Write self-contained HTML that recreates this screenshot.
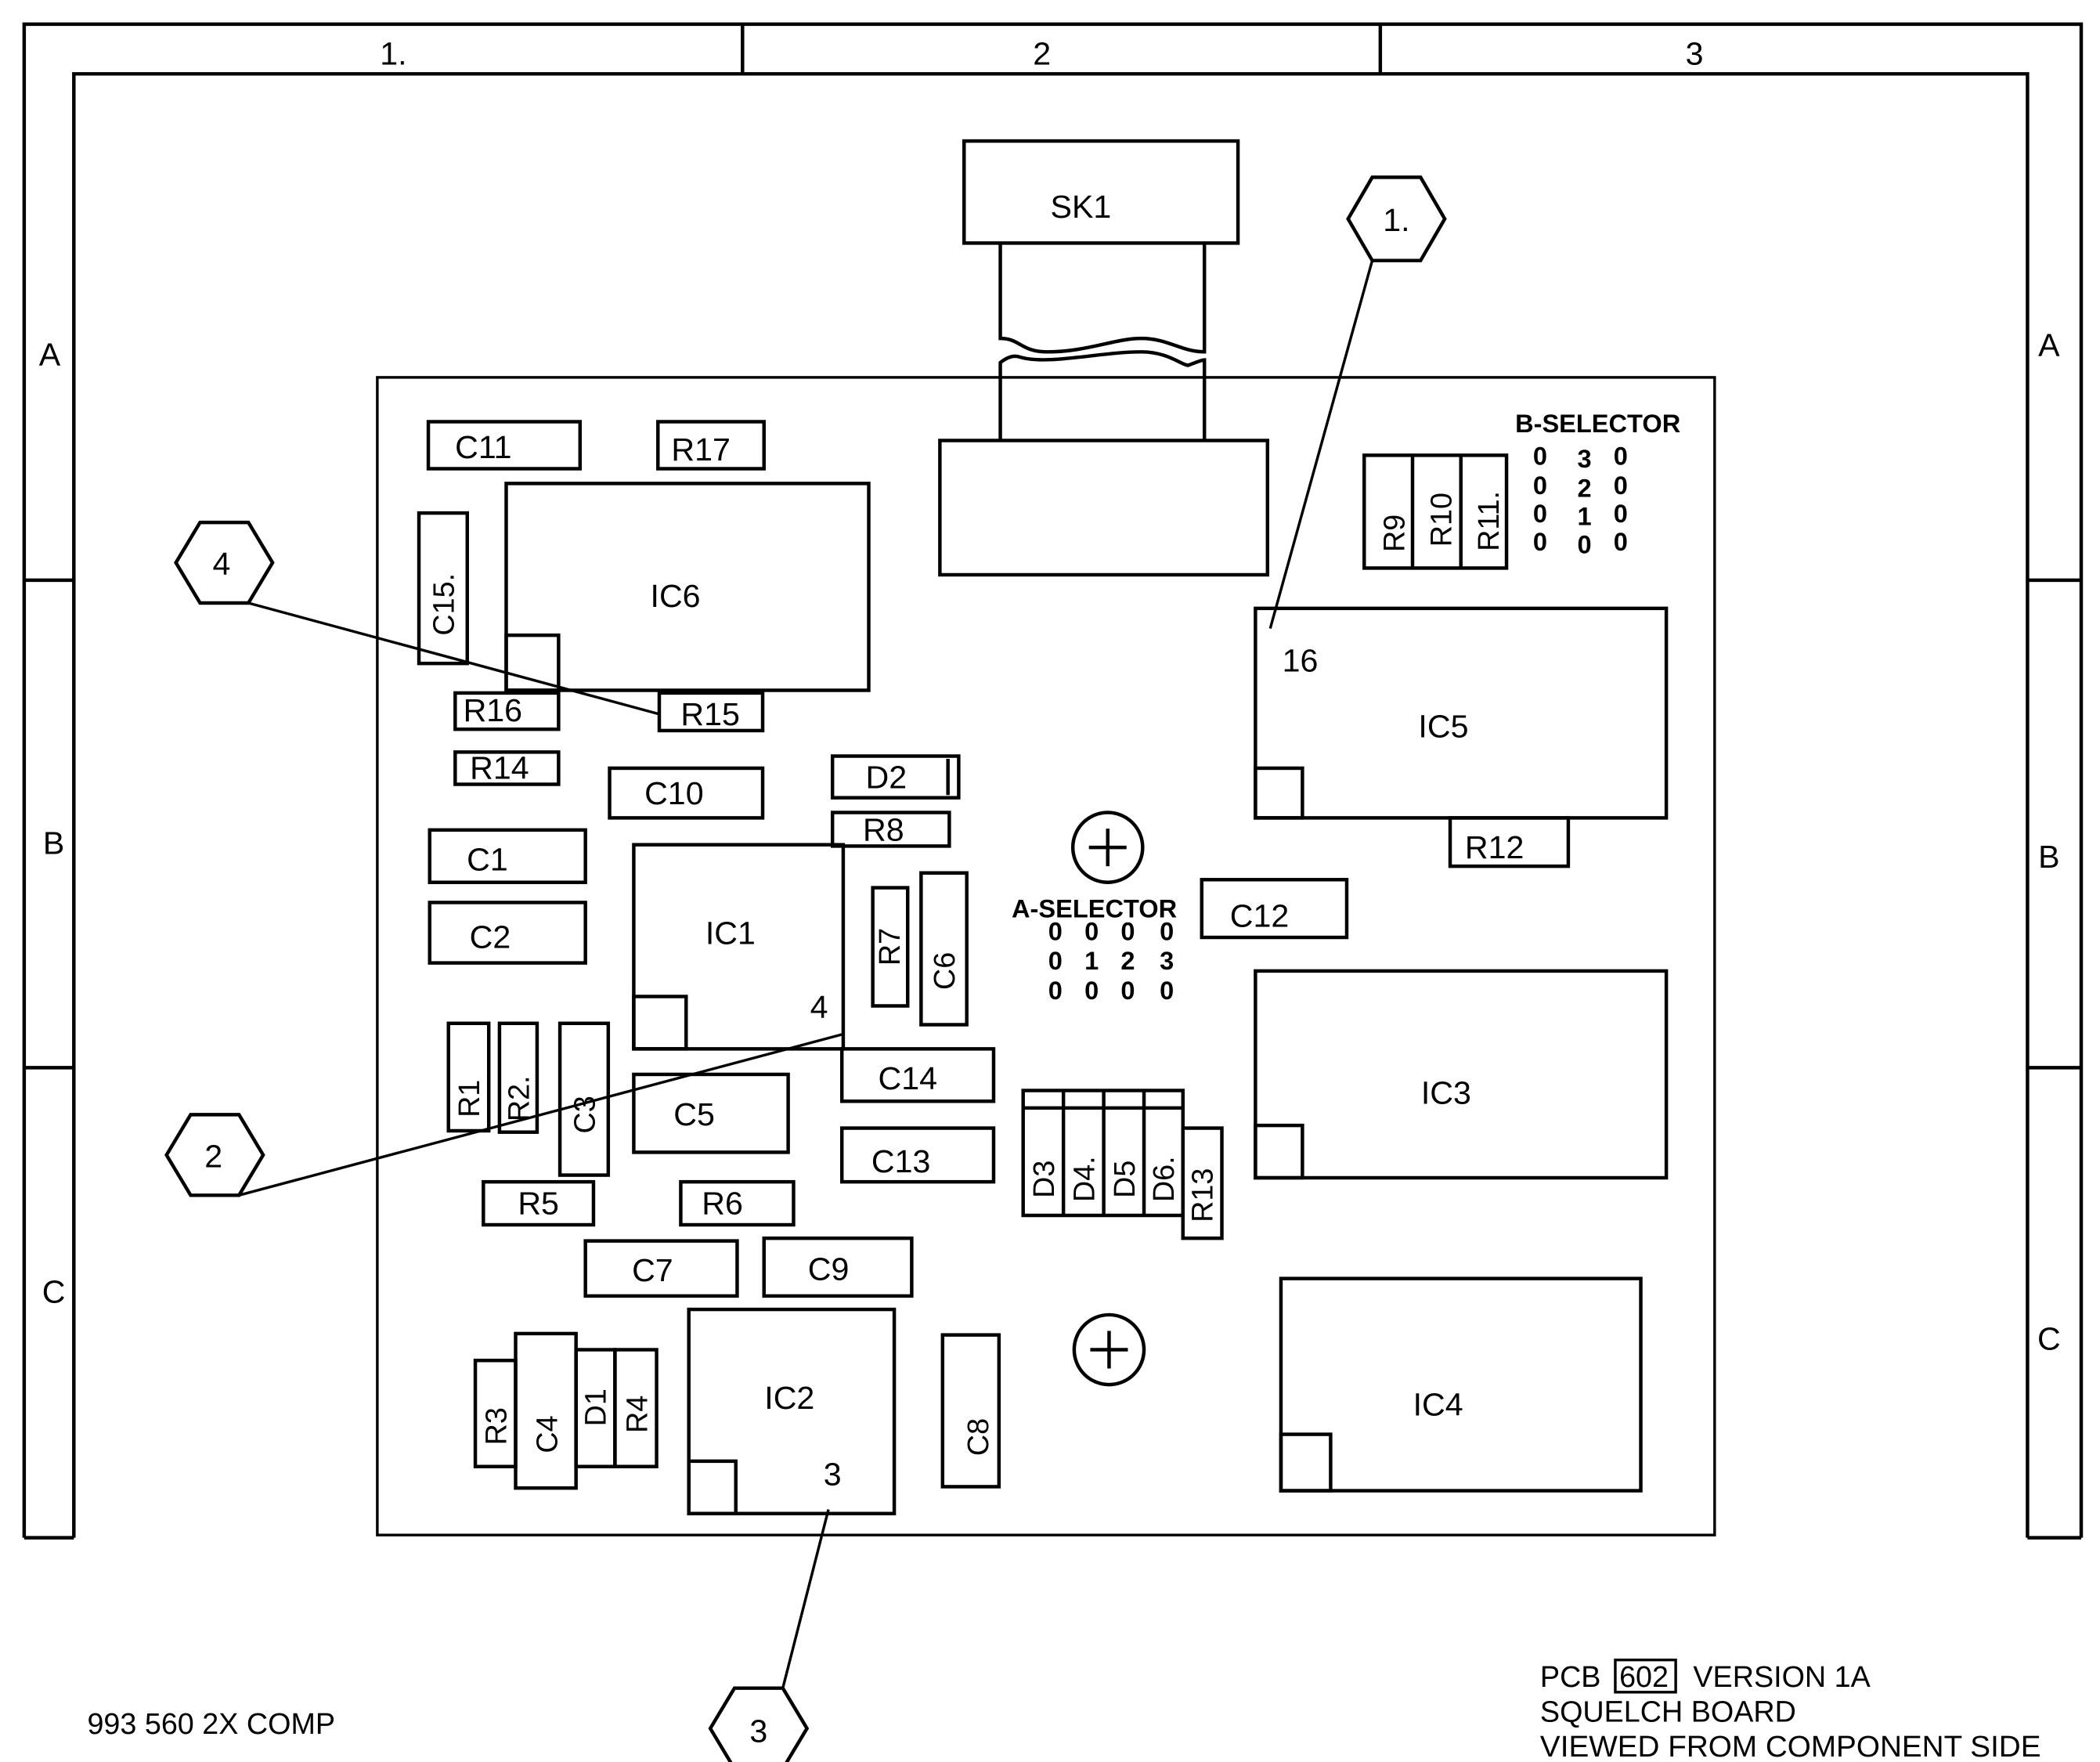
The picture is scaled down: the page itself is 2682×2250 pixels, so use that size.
<!DOCTYPE html>
<html><head><meta charset="utf-8"><style>
html,body{margin:0;padding:0;background:#fff}
svg{display:block}
text{font-family:"Liberation Sans",sans-serif;fill:#000}
</style></head><body>
<svg width="2682" height="2250" viewBox="0 0 1564 1312" preserveAspectRatio="none" xmlns="http://www.w3.org/2000/svg">
<g fill="none" stroke="#000" stroke-width="2.6">
<path d="M18 1145 V18 H1550 V1145"/>
<path d="M55 1145 V55 H1510 V1145"/>
<path d="M18 1145 H55 M1510 1145 H1550"/>
<path d="M553 18 V55 M1028 18 V55"/>
<path d="M18 432 H55 M18 795 H55 M1510 432 H1550 M1510 795 H1550"/>
<rect x="281" y="281" width="996" height="862" stroke-width="2"/>
<rect x="718" y="105" width="204" height="76"/>
<path d="M745 181 V252 C760 252 760 262 780 262 C810 262 830 252 850 252 C870 252 880 262 897 262 V181"/>
<path d="M745 328 V270 C750 266 755 264 760 266 C780 272 820 262 850 262 C870 262 880 272 885 272 C890 270 895 268 897 268 V328"/>
<rect x="700" y="328" width="244" height="100"/>
<rect x="319" y="314" width="113" height="35"/>
<rect x="490" y="314" width="79" height="35"/>
<rect x="377" y="360" width="270" height="154"/><rect x="377" y="473" width="39" height="41"/>
<rect x="312" y="382" width="36" height="112"/>
<rect x="339" y="516" width="77" height="27"/>
<rect x="491" y="516" width="77" height="28"/>
<rect x="339" y="560" width="77" height="24"/>
<rect x="454" y="572" width="114" height="37"/>
<rect x="620" y="563" width="94" height="31"/><path d="M706 565 V592"/>
<rect x="620" y="605" width="87" height="25"/>
<rect x="320" y="618" width="116" height="39"/>
<rect x="320" y="672" width="116" height="45"/>
<rect x="472" y="629" width="156" height="152"/><rect x="472" y="742" width="39" height="39"/>
<rect x="650" y="661" width="26" height="88"/>
<rect x="686" y="650" width="34" height="113"/>
<rect x="627" y="781" width="113" height="39"/>
<rect x="472" y="800" width="115" height="58"/>
<rect x="627" y="840" width="113" height="40"/>
<rect x="334" y="762" width="30" height="80"/>
<rect x="372" y="762" width="28" height="81"/>
<rect x="417" y="762" width="36" height="113"/>
<rect x="360" y="880" width="82" height="32"/>
<rect x="507" y="880" width="84" height="32"/>
<rect x="436" y="924" width="113" height="41"/>
<rect x="569" y="922" width="110" height="43"/>
<rect x="513" y="975" width="153" height="152"/><rect x="513" y="1088" width="35" height="39"/>
<rect x="354" y="1013" width="30" height="79"/>
<rect x="384" y="993" width="45" height="115"/>
<rect x="429" y="1005" width="29" height="87"/>
<rect x="458" y="1005" width="31" height="87"/>
<rect x="702" y="994" width="42" height="113"/>
<rect x="762" y="812" width="119" height="93"/>
<path d="M792 812 V905 M822 812 V905 M852 812 V905 M762 825 H881"/>
<rect x="881" y="840" width="29" height="82"/>
<rect x="935" y="453" width="306" height="156"/><rect x="935" y="572" width="35" height="37"/>
<rect x="1080" y="609" width="88" height="36"/>
<rect x="895" y="655" width="108" height="43"/>
<rect x="935" y="723" width="306" height="154"/><rect x="935" y="838" width="35" height="39"/>
<rect x="954" y="952" width="268" height="158"/><rect x="954" y="1068" width="37" height="42"/>
<rect x="1016" y="339" width="106" height="84"/><path d="M1052 339 V423 M1088 339 V423"/>
<circle cx="825" cy="631" r="26"/><path d="M825 617 V645 M811 631 H839"/>
<circle cx="826" cy="1005" r="26"/><path d="M826 991 V1019 M812 1005 H840"/>
<polygon points="1004,163 1022,132 1058,132 1076,163 1058,194 1022,194"/>
<polygon points="131,419 149,389 185,389 203,419 185,449 149,449"/>
<polygon points="124,860 142,830 178,830 196,860 178,890 142,890"/>
<polygon points="529,1287 547,1257 583,1257 601,1287 583,1317 547,1317"/>
<path d="M1022 194 L946 468 M185 449 L492 532 M178 890 L628 770 M583 1257 L617 1124" stroke-width="2"/>
<rect x="1203" y="1236" width="45" height="24" stroke-width="2"/>
</g>
<g font-size="24" text-anchor="middle">
<text x="293" y="48">1.</text><text x="776" y="48">2</text><text x="1262" y="48">3</text>
<text x="37" y="272">A</text><text x="40" y="636">B</text><text x="40" y="970">C</text>
<text x="1526" y="265">A</text><text x="1526" y="646">B</text><text x="1526" y="1005">C</text>
<text x="805" y="162">SK1</text>
<text x="360" y="341">C11</text><text x="522" y="343">R17</text>
<text x="503" y="452">IC6</text>
<text x="367" y="537">R16</text><text x="529" y="540">R15</text>
<text x="372" y="580">R14</text><text x="502" y="599">C10</text>
<text x="660" y="587">D2</text><text x="658" y="626">R8</text>
<text x="363" y="648">C1</text><text x="365" y="706">C2</text>
<text x="544" y="703">IC1</text><text x="610" y="758">4</text>
<text x="676" y="811">C14</text><text x="517" y="838">C5</text><text x="671" y="873">C13</text>
<text x="401" y="904">R5</text><text x="538" y="904">R6</text>
<text x="486" y="954">C7</text><text x="617" y="953">C9</text>
<text x="588" y="1049">IC2</text><text x="620" y="1106">3</text>
<text x="1075" y="549">IC5</text><text x="955" y="500" text-anchor="start">16</text>
<text x="1113" y="639">R12</text><text x="938" y="690">C12</text>
<text x="1077" y="822">IC3</text><text x="1071" y="1054">IC4</text>
<text x="1040" y="172">1.</text><text x="165" y="428">4</text><text x="159" y="869">2</text><text x="565" y="1297">3</text>
</g>
<g font-size="22" text-anchor="middle">
<text transform="translate(338,450) rotate(-90)">C15.</text>
<text transform="translate(670,705) rotate(-90)">R7</text>
<text transform="translate(711,723) rotate(-90)">C6</text>
<text transform="translate(357,818) rotate(-90)">R1</text>
<text transform="translate(394,818) rotate(-90)">R2.</text>
<text transform="translate(443,830) rotate(-90)">C3</text>
<text transform="translate(377,1062) rotate(-90)">R3</text>
<text transform="translate(415,1068) rotate(-90)">C4</text>
<text transform="translate(451,1048) rotate(-90)">D1</text>
<text transform="translate(482,1053) rotate(-90)">R4</text>
<text transform="translate(736,1070) rotate(-90)">C8</text>
<text transform="translate(785,878) rotate(-90)">D3</text>
<text transform="translate(815,878) rotate(-90)">D4.</text>
<text transform="translate(845,878) rotate(-90)">D5</text>
<text transform="translate(874,878) rotate(-90)">D6.</text>
<text transform="translate(903,890) rotate(-90)">R13</text>
<text transform="translate(1046,397) rotate(-90)">R9</text>
<text transform="translate(1081,387) rotate(-90)">R10</text>
<text transform="translate(1116,388) rotate(-90)">R11.</text>
</g>
<g font-size="19" font-weight="bold" text-anchor="middle">
<text x="1190" y="322">B-SELECTOR</text>
<text x="1147" y="346">0</text><text x="1180" y="348">3</text><text x="1207" y="346">0</text>
<text x="1147" y="368">0</text><text x="1180" y="370">2</text><text x="1207" y="368">0</text>
<text x="1147" y="389">0</text><text x="1180" y="391">1</text><text x="1207" y="389">0</text>
<text x="1147" y="410">0</text><text x="1180" y="412">0</text><text x="1207" y="410">0</text>
<text x="815" y="683">A-SELECTOR</text>
<text x="786" y="700">0</text><text x="813" y="700">0</text><text x="840" y="700">0</text><text x="869" y="700">0</text>
<text x="786" y="722">0</text><text x="813" y="722">1</text><text x="840" y="722">2</text><text x="869" y="722">3</text>
<text x="786" y="744">0</text><text x="813" y="744">0</text><text x="840" y="744">0</text><text x="869" y="744">0</text>
</g>
<g font-size="22">
<text x="65" y="1291">993 560 2X COMP</text>
<text x="1147" y="1256">PCB <tspan x="1206">602</tspan> <tspan x="1261">VERSION 1A</tspan></text>
<text x="1147" y="1282">SQUELCH BOARD</text>
<text x="1147" y="1308" textLength="373" lengthAdjust="spacingAndGlyphs">VIEWED FROM COMPONENT SIDE</text>
</g>
</svg>
</body></html>
